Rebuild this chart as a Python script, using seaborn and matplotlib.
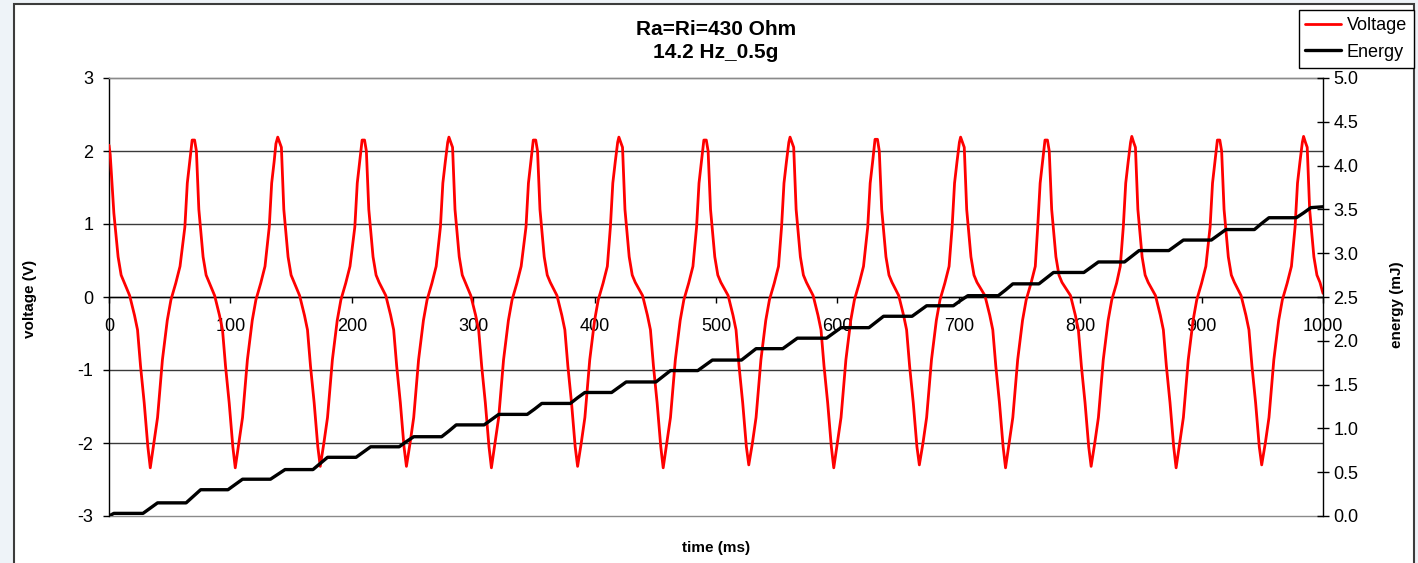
import matplotlib
matplotlib.use("Agg")
import matplotlib.pyplot as plt
import matplotlib.patches as mpatches
from matplotlib.ticker import FormatStrFormatter
import seaborn as sns
import pandas as pd

# ---------------- data ----------------
time_v = [
    0, 1, 4, 7.5, 10, 12.5, 17, 21, 23.5, 26, 29, 32, 34,
    37, 40, 44, 48, 51, 55, 58.5, 62.5, 64.5, 66.5, 68.5, 70.5,
    72, 74, 77.5, 80, 82.5, 87, 91, 93.5, 96, 99, 102, 104,
    107, 110, 114, 118, 121, 125, 128.5, 132, 134, 136, 137.5, 139,
    140.5, 142, 144, 147.5, 150, 152.5, 157, 161, 163.5, 166, 169, 172, 174,
    177, 180, 184, 188, 191, 195, 198.5, 202.5, 204.5, 206.5, 208.5, 210.5,
    212, 214, 217.5, 220, 222.5, 228, 232, 234.5, 237, 240, 243, 245,
    248, 251, 255, 259, 262, 266, 269.5, 273, 275, 277, 279, 280,
    281.5, 283, 285, 288.5, 291, 293.5, 298, 302, 304.5, 307, 310, 313, 315,
    318, 321, 325, 329, 332, 336, 339.5, 343.5, 345.5, 347.5, 349.5, 351.5,
    353, 355, 358.5, 361, 363.5, 369, 373, 375.5, 378, 381, 384, 386,
    389, 392, 396, 400, 403, 407, 410.5, 413, 415, 417, 419, 420,
    421.5, 423, 425, 428.5, 431, 433.5, 439.5, 443.5, 446, 448.5, 451.5, 454.5, 456.5,
    459.5, 462.5, 466.5, 470.5, 473.5, 477.5, 481, 484, 486, 488, 490, 492,
    493.5, 495.5, 499, 501.5, 504, 510, 514, 516.5, 519, 522, 525, 527,
    530, 533, 537, 541, 544, 548, 551.5, 554, 556, 558, 560, 561,
    562.5, 564, 566, 569.5, 572, 574.5, 580, 584, 586.5, 589, 592, 595, 597,
    600, 603, 607, 611, 614, 618, 621.5, 625, 627, 629, 631, 633,
    634.5, 636.5, 640, 642.5, 645, 650.5, 654.5, 657, 659.5, 662.5, 665.5, 667.5,
    670.5, 673.5, 677.5, 681.5, 684.5, 688.5, 692, 694.5, 696.5, 698.5, 700.5, 701.5,
    703, 704.5, 706.5, 710, 712.5, 715, 721.5, 725.5, 728, 730.5, 733.5, 736.5, 738.5,
    741.5, 744.5, 748.5, 752.5, 755.5, 759.5, 763, 765, 767, 769, 771, 773,
    774.5, 776.5, 780, 782.5, 785, 792, 796, 798.5, 801, 804, 807, 809,
    812, 815, 819, 823, 826, 830, 833, 835.5, 837.5, 839.5, 841.5, 842.5,
    844, 845.5, 847.5, 851, 853.5, 856, 862, 866, 868.5, 871, 874, 877, 879,
    882, 885, 889, 893, 896, 900, 903.5, 907, 909, 911, 913, 915,
    916.5, 918.5, 922, 924.5, 927, 932.5, 936.5, 939, 941.5, 944.5, 947.5, 949.5,
    952.5, 955.5, 959.5, 963.5, 966.5, 970.5, 974, 977, 979, 981, 983, 984,
    985.5, 987, 989, 992.5, 995, 997.5, 1000,
]
voltage = [
    2.08, 1.95, 1.15, 0.55, 0.30, 0.20, 0.02, -0.25, -0.45, -0.95, -1.45, -2.05, -2.34,
    -2.00, -1.65, -0.86, -0.32, -0.04, 0.19, 0.42, 0.96, 1.56, 1.85, 2.15, 2.15,
    2.00, 1.20, 0.55, 0.30, 0.20, 0.02, -0.25, -0.45, -0.95, -1.45, -2.05, -2.34,
    -2.00, -1.65, -0.86, -0.32, -0.04, 0.19, 0.42, 0.96, 1.56, 1.85, 2.10, 2.19,
    2.12, 2.05, 1.20, 0.55, 0.30, 0.20, 0.02, -0.25, -0.45, -0.95, -1.45, -2.05, -2.32,
    -2.00, -1.65, -0.86, -0.32, -0.04, 0.19, 0.42, 0.96, 1.56, 1.85, 2.15, 2.15,
    2.00, 1.20, 0.55, 0.30, 0.20, 0.02, -0.25, -0.45, -0.95, -1.45, -2.05, -2.32,
    -2.00, -1.65, -0.86, -0.32, -0.04, 0.19, 0.42, 0.96, 1.56, 1.85, 2.12, 2.19,
    2.12, 2.05, 1.20, 0.55, 0.30, 0.20, 0.02, -0.25, -0.45, -0.95, -1.45, -2.05, -2.34,
    -2.00, -1.65, -0.86, -0.32, -0.04, 0.19, 0.42, 0.96, 1.56, 1.85, 2.15, 2.15,
    2.00, 1.20, 0.55, 0.30, 0.20, 0.02, -0.25, -0.45, -0.95, -1.45, -2.05, -2.32,
    -2.00, -1.65, -0.86, -0.32, -0.04, 0.19, 0.42, 0.96, 1.56, 1.85, 2.12, 2.19,
    2.12, 2.05, 1.20, 0.55, 0.30, 0.20, 0.02, -0.25, -0.45, -0.95, -1.45, -2.05, -2.34,
    -2.00, -1.65, -0.86, -0.32, -0.04, 0.19, 0.42, 0.96, 1.56, 1.85, 2.15, 2.15,
    2.00, 1.20, 0.55, 0.30, 0.20, 0.02, -0.25, -0.45, -0.95, -1.45, -2.05, -2.30,
    -2.00, -1.65, -0.86, -0.32, -0.04, 0.19, 0.42, 0.96, 1.56, 1.85, 2.12, 2.19,
    2.12, 2.05, 1.20, 0.55, 0.30, 0.20, 0.02, -0.25, -0.45, -0.95, -1.45, -2.05, -2.34,
    -2.00, -1.65, -0.86, -0.32, -0.04, 0.19, 0.42, 0.96, 1.56, 1.85, 2.16, 2.16,
    2.00, 1.20, 0.55, 0.30, 0.20, 0.02, -0.25, -0.45, -0.95, -1.45, -2.05, -2.30,
    -2.00, -1.65, -0.86, -0.32, -0.04, 0.19, 0.42, 0.96, 1.56, 1.85, 2.12, 2.19,
    2.12, 2.05, 1.20, 0.55, 0.30, 0.20, 0.02, -0.25, -0.45, -0.95, -1.45, -2.05, -2.34,
    -2.00, -1.65, -0.86, -0.32, -0.04, 0.19, 0.42, 0.96, 1.56, 1.85, 2.15, 2.15,
    2.00, 1.20, 0.55, 0.30, 0.20, 0.02, -0.25, -0.45, -0.95, -1.45, -2.05, -2.32,
    -2.00, -1.65, -0.86, -0.32, -0.04, 0.19, 0.42, 0.96, 1.56, 1.85, 2.12, 2.20,
    2.12, 2.05, 1.20, 0.55, 0.30, 0.20, 0.02, -0.25, -0.45, -0.95, -1.45, -2.05, -2.34,
    -2.00, -1.65, -0.86, -0.32, -0.04, 0.19, 0.42, 0.96, 1.56, 1.85, 2.15, 2.15,
    2.00, 1.20, 0.55, 0.30, 0.20, 0.02, -0.25, -0.45, -0.95, -1.45, -2.05, -2.30,
    -2.00, -1.65, -0.86, -0.32, -0.04, 0.19, 0.42, 0.96, 1.56, 1.85, 2.12, 2.20,
    2.12, 2.05, 1.20, 0.55, 0.30, 0.20, 0.05,
]

time_e = [
    0, 4,
    28, 34, 40, 63.5, 69.5, 75.5,
    98, 104, 110, 133, 139, 145,
    168, 174, 180, 203.5, 209.5, 215.5,
    239, 245, 251, 274, 280, 286,
    309, 315, 321, 344.5, 350.5, 356.5,
    380, 386, 392, 414, 420, 426,
    450.5, 456.5, 462.5, 485, 491, 497,
    521, 527, 533, 555, 561, 567,
    591, 597, 603, 626, 632, 638,
    661.5, 667.5, 673.5, 695.5, 701.5, 707.5,
    732.5, 738.5, 744.5, 766, 772, 778,
    803, 809, 815, 836.5, 842.5, 848.5,
    873, 879, 885, 908, 914, 920,
    943.5, 949.5, 955.5, 978, 984, 990,
    1000,
]
energy = [
    0.00, 0.03,
    0.03, 0.09, 0.15, 0.15, 0.225, 0.30,
    0.30, 0.36, 0.42, 0.42, 0.475, 0.53,
    0.53, 0.60, 0.67, 0.67, 0.73, 0.79,
    0.79, 0.85, 0.905, 0.905, 0.97, 1.04,
    1.04, 1.10, 1.16, 1.16, 1.22, 1.285,
    1.285, 1.35, 1.41, 1.41, 1.47, 1.53,
    1.53, 1.595, 1.66, 1.66, 1.72, 1.78,
    1.78, 1.845, 1.91, 1.91, 1.97, 2.03,
    2.03, 2.09, 2.15, 2.15, 2.215, 2.28,
    2.28, 2.34, 2.40, 2.40, 2.46, 2.515,
    2.515, 2.58, 2.65, 2.65, 2.715, 2.78,
    2.78, 2.84, 2.90, 2.90, 2.965, 3.03,
    3.03, 3.09, 3.15, 3.15, 3.21, 3.27,
    3.27, 3.34, 3.405, 3.405, 3.46, 3.52,
    3.53,
]

x_ticks = [0, 100, 200, 300, 400, 500, 600, 700, 800, 900, 1000]
v_ticks = [-3, -2, -1, 0, 1, 2, 3]
e_ticks = [0.0, 0.5, 1.0, 1.5, 2.0, 2.5, 3.0, 3.5, 4.0, 4.5, 5.0]

title_text = "Ra=Ri=430 Ohm\n14.2 Hz_0.5g"

# ---------------- style ----------------
sns.set_theme(style="white")
plt.rcParams['font.family'] = ['Liberation Sans', 'DejaVu Sans']
plt.rcParams['axes.unicode_minus'] = False
plt.rcParams['text.color'] = 'black'
plt.rcParams['xtick.color'] = 'black'
plt.rcParams['ytick.color'] = 'black'
plt.rcParams['axes.labelcolor'] = 'black'

W, H = 1418, 563
fig = plt.figure(figsize=(W / 100, H / 100), dpi=100)
fig.patch.set_facecolor('#eef3f8')
frame = mpatches.Rectangle((14 / W, -0.02), (1414 - 14) / W, (563 - 4) / H + 0.02,
                           transform=fig.transFigure, facecolor='white',
                           edgecolor='#3c3c3c', linewidth=1.5, zorder=-5)
fig.patches.append(frame)

ax = fig.add_axes([109 / W, 47 / H, (1323 - 109) / W, (516 - 78) / H])
ax.set_facecolor('white')
ax.set_zorder(1)

df_v = pd.DataFrame({'t': time_v, 'v': voltage})
df_e = pd.DataFrame({'t': time_e, 'e': energy})

sns.lineplot(data=df_v, x='t', y='v', ax=ax, color='#ff0000', linewidth=2.0,
             sort=False, estimator=None, label='Voltage', zorder=3)
ax2 = ax.twinx()
ax2.set_zorder(2)
ax2.patch.set_visible(False)
sns.lineplot(data=df_e, x='t', y='e', ax=ax2, color='black', linewidth=2.4,
             sort=False, estimator=None, label='Energy', zorder=3)

# primary axis
ax.set_xlim(0, 1000)
ax.set_ylim(-3, 3)
ax.set_xticks(x_ticks)
ax.set_yticks(v_ticks)
ax.set_xticklabels([str(t) for t in x_ticks])
ax.set_yticklabels([str(t) for t in v_ticks])
ax.set_xlabel('')
ax.set_ylabel('')
ax.spines['bottom'].set_position(('data', 0))
ax.spines['bottom'].set_color('black')
ax.spines['bottom'].set_linewidth(1.0)
ax.spines['left'].set_color('black')
ax.spines['left'].set_linewidth(1.0)
ax.spines['top'].set_color('#8a8a8a')
ax.spines['top'].set_linewidth(1.0)
ax.spines['right'].set_visible(False)
ax.tick_params(axis='x', direction='out', length=4.3, width=1, colors='black',
               labelsize=13, pad=10.5, bottom=True)
ax.tick_params(axis='y', direction='out', length=4.3, width=1, colors='black',
               labelsize=13, pad=7, left=True)
ax.yaxis.grid(True, color='#3a3a3a', linewidth=1.0)
ax.xaxis.grid(False)
ax.set_axisbelow(True)
gl = ax.get_ygridlines()
for g in (gl[0], gl[-1]):
    g.set_color('#8a8a8a')
    g.set_clip_on(False)

# secondary axis
ax2.set_ylim(0, 5)
ax2.set_yticks(e_ticks)
ax2.yaxis.set_major_formatter(FormatStrFormatter('%.1f'))
ax2.set_ylabel('')
for s in ['top', 'bottom', 'left']:
    ax2.spines[s].set_visible(False)
ax2.spines['right'].set_color('black')
ax2.spines['right'].set_linewidth(1.0)
ax2.tick_params(axis='y', direction='inout', length=8.6, width=1, colors='black',
                labelsize=13, pad=3, right=True)
ax2.grid(False)

# legend
h1, l1 = ax.get_legend_handles_labels()
h2, l2 = ax2.get_legend_handles_labels()
for a in (ax, ax2):
    if a.get_legend() is not None:
        a.get_legend().remove()
leg = fig.legend(h1 + h2, l1 + l2, loc='upper right',
                 bbox_to_anchor=(1414 / W, (563 - 10) / H),
                 frameon=True, fancybox=False, framealpha=1, edgecolor='black',
                 fontsize=13, handlelength=2.0, handletextpad=0.3,
                 labelspacing=0.55, borderpad=0.38, borderaxespad=0)
leg.get_frame().set_linewidth(1.0)
for t in leg.get_texts():
    t.set_color('black')

# texts
fig.text(716 / W, (563 - 41) / H, title_text, ha='center', va='center',
         fontsize=15, fontweight='bold', linespacing=1.3, color='black')
fig.text(30 / W, (563 - 299) / H, 'voltage (V)', rotation=90, ha='center',
         va='center', fontsize=11, fontweight='bold', color='black')
fig.text(1397 / W, (563 - 305) / H, 'energy (mJ)', rotation=90, ha='center',
         va='center', fontsize=11, fontweight='bold', color='black')
fig.text(716 / W, (563 - 548) / H, 'time (ms)', ha='center', va='center',
         fontsize=11, fontweight='bold', color='black')

fig.savefig('out.png', dpi=100, facecolor=fig.get_facecolor())
